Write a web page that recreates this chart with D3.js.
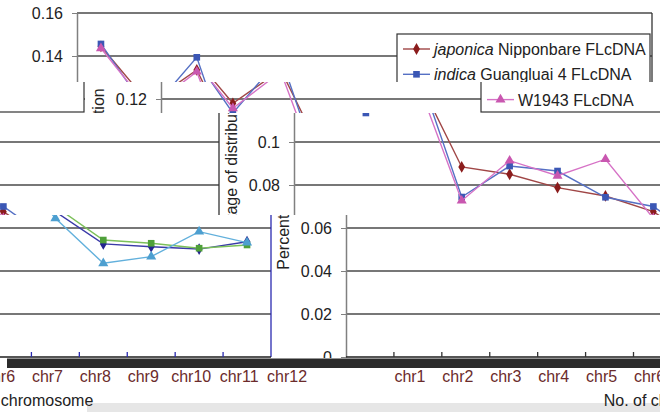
<!DOCTYPE html>
<html>
<head>
<meta charset="utf-8">
<script src="https://cdn.jsdelivr.net/npm/d3@7"></script>
<style>
  body { margin: 0; background: #fff; }
  svg { display: block; font-family: 'Liberation Sans', Arial, sans-serif; }
</style>
</head>
<body>
<div id="chart"></div>
<script>
// data
const chromosomes = ['chr1', 'chr2', 'chr3', 'chr4', 'chr5', 'chr6', 'chr7', 'chr8', 'chr9', 'chr10', 'chr11', 'chr12']
const japonica = [0.1445, 0.118, 0.1335, 0.0884, 0.085, 0.0788, 0.0749, 0.0676, 0.0526, 0.0513, 0.0502, 0.0536]
const indica = [0.1456, 0.1135, 0.1394, 0.0744, 0.0888, 0.0865, 0.0743, 0.070, 0.0544, 0.0529, 0.0506, 0.0521]
const w1943 = [0.1436, 0.1157, 0.1327, 0.0727, 0.0913, 0.0843, 0.092, 0.0645, 0.0436, 0.0467, 0.0583, 0.0532]
const yTicks = [0, 0.02, 0.04, 0.06, 0.08, 0.1, 0.12, 0.14, 0.16]
const legendNames = [['japonica', ' Nipponbare FLcDNA'], ['indica', ' Guangluai 4 FLcDNA'], ['', 'W1943 FLcDNA']]

let svgWidth = 660
let svgHeight = 412

let padding = {
    'left': 77,
    'right': 5,
    'top': 13,
    'bottom': 55
}

// normal colours, and the colour-shifted ones seen in the broken lower-left block
let palette = {
    jap: {line: '#a04646', mark: '#8b1c1c'},
    ind: {line: '#5570c4', mark: '#3b57b5'},
    w19: {line: '#d672c6', mark: '#c957b0'},
    grid: '#4a4a4a',
    border: '#333'
}
let altPalette = {
    jap: {line: '#3a3aa8', mark: '#24248f'},
    ind: {line: '#7cc05a', mark: '#4fa03a'},
    w19: {line: '#62b0dc', mark: '#4d9fd0'},
    grid: '#4a4a4a',
    border: '#2a2ab0'
}

// the picture is a damaged image: horizontal strips, each shifted sideways
let tiles = [
    {x0: 0, x1: 660, y0: 0, y1: 82, dx: 0},
    {x0: 0, x1: 85, y0: 82, y1: 113, dx: -566},
    {x0: 85, x1: 660, y0: 82, y1: 113, dx: 84},
    {x0: 0, x1: 223, y0: 113, y1: 215, dx: -433},
    {x0: 223, x1: 660, y0: 113, y1: 215, dx: 217},
    {x0: 0, x1: 275, y0: 215, y1: 358, dx: -381, alt: true},
    {x0: 275, x1: 660, y0: 215, y1: 358, dx: 269},
    {x0: 0, x1: 309, y0: 368, y1: 412, dx: -341},
    {x0: 309, x1: 660, y0: 368, y1: 412, dx: 309}
]

let x = d3.scaleBand()
    .domain(chromosomes)
    .range([padding.left, svgWidth - padding.right - 3])
let y = d3.scaleLinear()
    .domain([0, 0.16])
    .range([svgHeight - padding.bottom, padding.top])

let svg = d3.select('#chart').append('svg')
    .attr('width', svgWidth)
    .attr('height', svgHeight)
let defs = svg.append('defs')

svg.append('rect')
    .attr('width', svgWidth)
    .attr('height', svgHeight)
    .attr('fill', '#fff')

// light strip at the very bottom
svg.append('rect')
    .attr('x', 87).attr('y', 403)
    .attr('width', svgWidth - 87).attr('height', svgHeight - 403)
    .attr('fill', '#e6e6e6')

function drawChart(g, pal) {
    let bw = x.bandwidth()
    let x0 = x.range()[0], x1 = x.range()[1]

    g.append('g')
        .selectAll('line')
        .data(yTicks.filter(d => d > 0))
        .enter()
        .append('line')
        .attr('x1', x0).attr('x2', x1)
        .attr('y1', d => y(d)).attr('y2', d => y(d))
        .attr('stroke', pal.grid)
        .attr('stroke-width', 1.3)

    g.append('line')
        .attr('x1', x1).attr('x2', x1)
        .attr('y1', y(0.16)).attr('y2', y(0))
        .attr('stroke', pal.border)
        .attr('stroke-width', 1.3)

    let axis_y = d3.axisLeft()
        .scale(y)
        .tickValues(yTicks)
        .tickSize(5)
        .tickPadding(9)
        .tickSizeOuter(0)
        .tickFormat(d => String(+d.toFixed(2)))
    let ya = g.append('g')
        .attr('transform', `translate(${x0}, 0)`)
        .call(axis_y)
    ya.select('.domain').attr('stroke', '#808080').attr('stroke-width', 1.5)
    ya.selectAll('.tick line').attr('stroke', '#808080')
    ya.selectAll('text')
        .attr('font-size', 16)
        .attr('font-family', null)
        .attr('fill', '#222')

    // x axis line and category-boundary ticks
    g.append('line')
        .attr('x1', x0).attr('x2', x1)
        .attr('y1', y(0)).attr('y2', y(0))
        .attr('stroke', '#1e1e1e')
        .attr('stroke-width', 1.6)
    g.append('g')
        .selectAll('line')
        .data(chromosomes.slice(1))
        .enter()
        .append('line')
        .attr('x1', d => x(d)).attr('x2', d => x(d))
        .attr('y1', y(0) - 5).attr('y2', y(0))
        .attr('stroke', pal.border)
        .attr('stroke-width', 1.3)

    g.append('g')
        .selectAll('text')
        .data(chromosomes)
        .enter()
        .append('text')
        .attr('x', d => x(d) + bw / 2)
        .attr('y', 382)
        .attr('text-anchor', 'middle')
        .attr('font-size', 16)
        .attr('fill', '#6b2b2b')
        .text(d => d)

    g.append('text')
        .attr('x', (x0 + x1) / 2)
        .attr('y', 406)
        .attr('text-anchor', 'middle')
        .attr('font-size', 16)
        .attr('fill', '#222')
        .text('No. of chromosome')

    g.append('text')
        .attr('transform', `translate(20, ${(y(0) + y(0.16)) / 2 - 6}) rotate(-90)`)
        .attr('text-anchor', 'middle')
        .attr('font-size', 16)
        .attr('fill', '#222')
        .text('Percentage of distribution')

    let series = [
        {values: japonica, col: pal.jap, sym: d3.symbolDiamond, size: 40},
        {values: indica, col: pal.ind, sym: d3.symbolSquare, size: 44},
        {values: w1943, col: pal.w19, sym: d3.symbolTriangle, size: 44}
    ]
    let line = d3.line()
        .x((d, i) => x(chromosomes[i]) + bw / 2)
        .y(d => y(d))

    series.forEach(s => {
        g.append('path')
            .datum(s.values)
            .attr('d', line)
            .attr('fill', 'none')
            .attr('stroke', s.col.line)
            .attr('stroke-width', 1.4)
        g.append('g')
            .selectAll('path')
            .data(s.values)
            .enter()
            .append('path')
            .attr('transform', (d, i) => `translate(${x(chromosomes[i]) + bw / 2}, ${y(d)})`)
            .attr('d', d3.symbol().type(s.sym).size(s.size))
            .attr('fill', s.col.mark)
    })

    // legend
    let lg = g.append('g').attr('transform', 'translate(397, 34)')
    lg.append('rect')
        .attr('width', 253)
        .attr('height', 78)
        .attr('fill', '#fff')
        .attr('stroke', '#333')
        .attr('stroke-width', 1.2)
    series.forEach((s, i) => {
        let cy = 15 + i * 25.3
        lg.append('line')
            .attr('x1', 6).attr('x2', 33)
            .attr('y1', cy).attr('y2', cy)
            .attr('stroke', s.col.line)
            .attr('stroke-width', 1.4)
        lg.append('path')
            .attr('transform', `translate(19.5, ${cy})`)
            .attr('d', d3.symbol().type(s.sym).size(s.size))
            .attr('fill', s.col.mark)
        let t = lg.append('text')
            .attr('x', 37)
            .attr('y', cy + 6)
            .attr('font-size', 16)
            .attr('fill', '#222')
        if (legendNames[i][0]) {
            t.append('tspan').attr('font-style', 'italic').text(legendNames[i][0])
        }
        t.append('tspan').text(legendNames[i][1])
    })
}

tiles.forEach((t, i) => {
    defs.append('clipPath')
        .attr('id', 'tile' + i)
        .append('rect')
        .attr('x', t.x0).attr('y', t.y0)
        .attr('width', t.x1 - t.x0)
        .attr('height', t.y1 - t.y0)
    let g = svg.append('g')
        .attr('clip-path', `url(#tile${i})`)
        .append('g')
        .attr('transform', `translate(${t.dx}, 0)`)
    drawChart(g, t.alt ? altPalette : palette)
    // drop the texts that this strip does not really show
    let m = 3
    g.selectAll('text').each(function() {
        let r = this.getBoundingClientRect()
        if (r.right < t.x0 + m || r.left > t.x1 - m || r.bottom < t.y0 + m || r.top > t.y1 - m) {
            d3.select(this).remove()
        }
    })
})

// dark smear under the x axis
svg.append('rect')
    .attr('x', 7).attr('y', 358.5)
    .attr('width', svgWidth - 7).attr('height', 9.5)
    .attr('fill', '#2b2b2b')
</script>
</body>
</html>
